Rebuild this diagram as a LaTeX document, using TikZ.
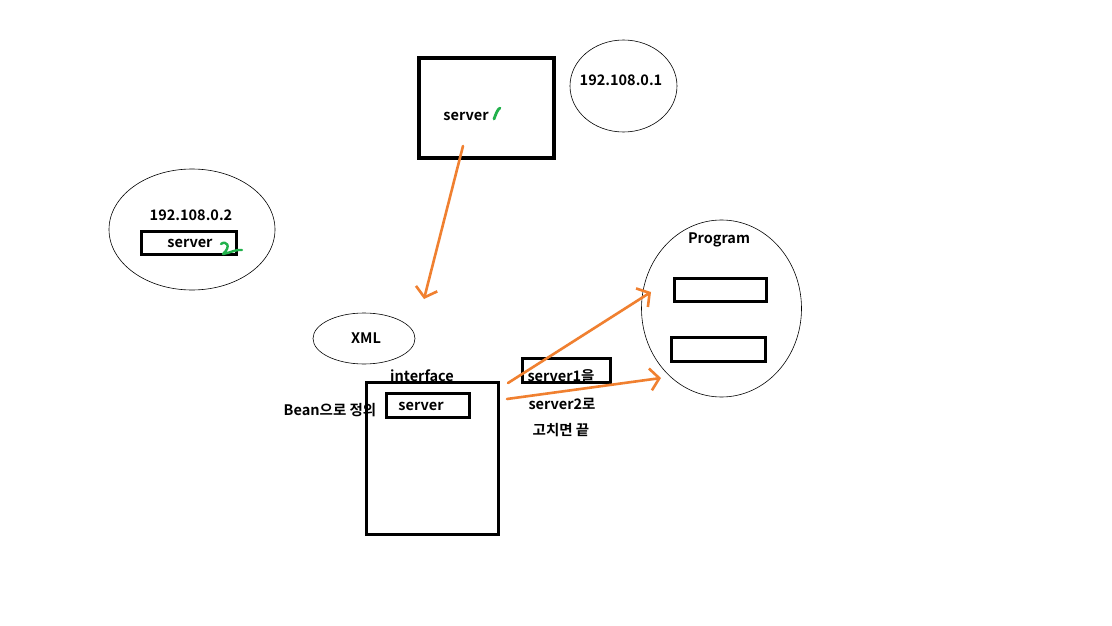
\documentclass[tikz,border=0pt]{standalone}
\usepackage{fontspec}
\setmainfont{Noto Sans CJK KR}[BoldFont={* Bold}]
\usetikzlibrary{arrows.meta,shapes.geometric}
\definecolor{paintorange}{RGB}{240,128,48}
\definecolor{paintgreen}{RGB}{34,177,76}
\tikzset{
  lbl/.style={font=\bfseries\fontsize{14.5}{16}\selectfont, inner sep=0pt},
  thickbox/.style={draw=black, line width=3pt, inner sep=0pt},
  thinell/.style={draw=black, line width=0.6pt},
  orangearrow/.style={draw=paintorange, line width=2.6pt, line cap=round,
    -{Straight Barb[length=9pt,width=22pt,line width=2.6pt]}},
  greenmark/.style={draw=paintgreen, line width=2.8pt, line cap=round, line join=round}
}
\begin{document}
\begin{tikzpicture}[x=1pt,y=-1pt]
\useasboundingbox[fill=white] (0,0) rectangle (1112,626);

% server 1 box and its ellipse
\draw[thickbox, line width=4pt] (419,58) rectangle (554,158);
\node[lbl] (s1txt) at (466,116) {server};
\draw[greenmark] (494,119) .. controls (496,114) and (497,110) .. (500,108);
\node[thinell, ellipse, minimum width=107pt, minimum height=92pt] (ip1) at (623.5,86) {};
\node[lbl] (ip1txt) at (621,80) {192.108.0.1};

% server 2 ellipse
\node[thinell, ellipse, minimum width=166pt, minimum height=121pt] (ip2) at (192,229.5) {};
\node[lbl] (ip2txt) at (191,215) {192.108.0.2};
\draw[thickbox] (141,231) rectangle (236,254);
\node[lbl] (s2txt) at (190,243) {server};
\draw[greenmark, line width=2.4pt] (221,244) .. controls (226,240) and (232,246) .. (223,254) .. controls (230,253) and (236,249) .. (242,250);

% XML ellipse
\node[thinell, ellipse, minimum width=102pt, minimum height=51pt] (xml) at (364,338.5) {};
\node[lbl] (xmltxt) at (366,338) {XML};

% interface box
\node[lbl] (iftxt) at (422,376) {interface};
\draw[thickbox] (366,382) rectangle (498,534);
\draw[thickbox] (386,393) rectangle (469,417);
\node[lbl] (bean) at (330,410) {Bean으로 정의};
\node[lbl] (ifsrv) at (421,406) {server};

% server1 -> server2 note
\draw[thickbox] (522,358) rectangle (610,382);
\node[lbl] (n1) at (561,376) {server1을};
\node[lbl] (n2) at (562,404) {server2로};
\node[lbl] (n3) at (561,430) {고치면 끝};

% Program ellipse
\node[thinell, ellipse, minimum width=160pt, minimum height=177pt] (prog) at (721.5,308.5) {};
\node[lbl] (progtxt) at (719,240) {Program};
\draw[thickbox] (674,278) rectangle (766,301);
\draw[thickbox] (671,337) rectangle (765,361);

% arrows
\coordinate (a1s) at (463,146);
\coordinate (a1e) at (424,299);
\coordinate (a2s) at (508,383);
\coordinate (a2e) at (651,292);
\coordinate (a3s) at (507,399);
\coordinate (a3e) at (661,378);
\draw[orangearrow] (a1s) -- (a1e);
\draw[orangearrow] (a2s) -- (a2e);
\draw[orangearrow] (a3s) -- (a3e);
\end{tikzpicture}
\end{document}
